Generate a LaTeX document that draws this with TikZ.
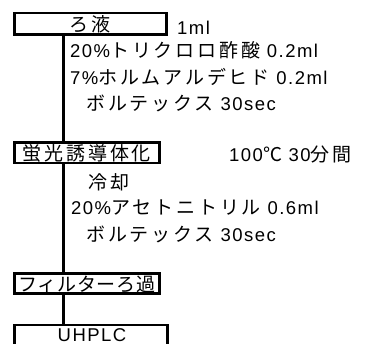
\documentclass[tikz,border=0pt]{standalone}
\usepackage{fontspec}
\setmainfont{Liberation Sans}[LetterSpace=8]
\newfontfamily\jp{Noto Sans CJK JP}[LetterSpace=15]
\newfontfamily\jpn{Noto Sans CJK JP}[LetterSpace=4]
\newcommand\jpsize{\fontsize{19}{21}\selectfont}
\begin{document}
\begin{tikzpicture}[x=1pt,y=-1pt,
  box/.style={draw,line width=2.8pt,inner sep=0pt,text height=16.5pt,text depth=1.5pt,font=\jpsize\jp},
  lbl/.style={anchor=west,inner sep=0pt,font=\fontsize{18.5}{20}\selectfont},
  flow/.style={line width=2.8pt}]
\useasboundingbox (0,0) rectangle (374,344);
\node[box,minimum width=152.5,minimum height=21.2] (b1) at (90.35,23.7) {ろ液};
\node[box,minimum width=145.5,minimum height=20.2] (b2) at (86.85,153) {蛍光誘導体化};
\node[box,minimum width=145.5,minimum height=20.2,font=\jpsize\jpn] (b3) at (86.85,283.5) {フィルターろ過};
\node[box,minimum width=153.5,minimum height=30] (b4) at (90.85,340) {};
\node[lbl,anchor=center] (t9) at (92,335) {UHPLC};
\draw[flow] (b1.south -| 63.5,0) -- (b2.north -| 63.5,0);
\draw[flow] (b2.south -| 63.5,0) -- (b3.north -| 63.5,0);
\draw[flow] (b3.south -| 63.5,0) -- (b4.north -| 63.5,0);
\node[lbl] (t1) at (177,28) {1ml};
\node[lbl] (t2) at (70,50) {20\%{\jpsize\jp トリクロロ酢酸} 0.2ml};
\node[lbl] (t3) at (70,77) {7\%{\jpsize\jp ホルムアルデヒド} 0.2ml};
\node[lbl] (t4) at (86,103) {{\jpsize\jp ボルテックス} 30sec};
\node[lbl] (t5) at (229,155) {100{\jpsize\jp ℃} 30{\jpsize\jp 分間}};
\node[lbl] (t6) at (88,182) {\jpsize\jp 冷却};
\node[lbl] (t7) at (71,208) {20\%{\jpsize\jp アセトニトリル} 0.6ml};
\node[lbl] (t8) at (86,234) {{\jpsize\jp ボルテックス} 30sec};
\end{tikzpicture}
\end{document}
